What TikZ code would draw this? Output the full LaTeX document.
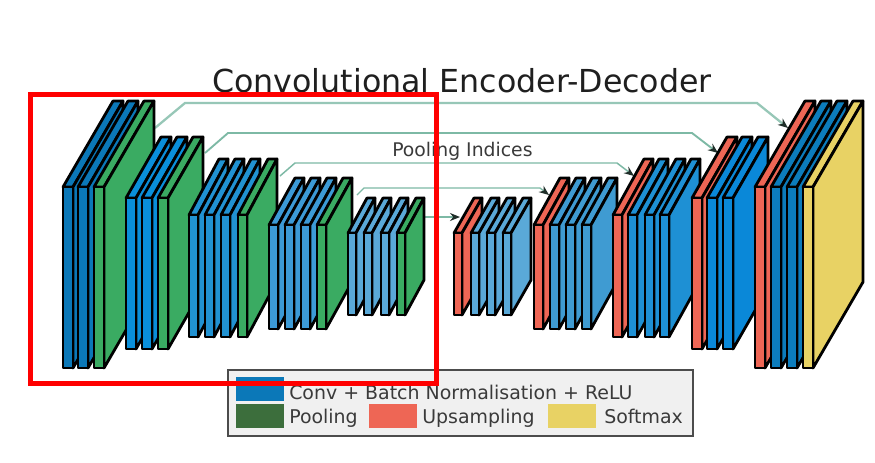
\documentclass[tikz,border=0pt]{standalone}
\usepackage{fontspec}
\setmainfont{DejaVu Sans}
\usetikzlibrary{arrows.meta}
\definecolor{cA}{HTML}{0B78B8}
\definecolor{cB}{HTML}{0A8FDA}
\definecolor{cC}{HTML}{2192D2}
\definecolor{cD}{HTML}{3C9AD6}
\definecolor{cE}{HTML}{5AA9D8}
\definecolor{cF}{HTML}{3F9BD2}
\definecolor{cG}{HTML}{1E90D4}
\definecolor{cH}{HTML}{0A88D8}
\definecolor{cI}{HTML}{0C7CBC}
\definecolor{grn}{HTML}{3AAB62}
\definecolor{grnleg}{HTML}{3C6E3C}
\definecolor{redc}{HTML}{EE6655}
\definecolor{yel}{HTML}{E8D264}
\definecolor{teal1}{HTML}{7DB9A5}
\definecolor{legbg}{HTML}{F0F0F0}
\definecolor{legtxt}{HTML}{3A3A3A}
\tikzset{
  slabface/.style={draw=black,line width=2.1pt,line join=round},
  skip/.style={draw=teal1,-{Stealth[length=7.5pt,width=6pt,color=black!75!teal1]}},
  legtext/.style={inner sep=0pt,anchor=base west,font=\fontsize{14.2pt}{16pt}\selectfont,text=legtxt},
  patch/.style={draw=none}
}
% \slabs{x/colour list}{w}{top}{bottom}{dx}{dy}
\newcommand{\slabs}[6]{%
  \foreach \xx/\cc in {#1}{%
    \path[slabface,fill=\cc] (\xx,#3) -- ({\xx+#5},{#3-#6}) -- ({\xx+#2+#5},{#3-#6}) -- ({\xx+#2},#3) -- cycle;
    \path[slabface,fill=\cc] ({\xx+#2},#3) -- ({\xx+#2+#5},{#3-#6}) -- ({\xx+#2+#5},{#4-#6}) -- ({\xx+#2},#4) -- cycle;
    \path[slabface,fill=\cc] (\xx,#3) rectangle ({\xx+#2},#4);
  }%
}
\begin{document}
\begin{tikzpicture}[x=0.75pt,y=-0.75pt]
\useasboundingbox[fill=white] (0,0) rectangle (875,462);

% skip connectors
\coordinate (s1) at (155,128); \coordinate (s1a) at (185,103); \coordinate (s1b) at (757,103); \coordinate (e1) at (788,128);
\coordinate (s2) at (205,153); \coordinate (s2a) at (228,133); \coordinate (s2b) at (692,133); \coordinate (e2) at (718,153);
\coordinate (s3) at (280,176); \coordinate (s3a) at (295,163); \coordinate (s3b) at (617,163); \coordinate (e3) at (634,176);
\coordinate (s4) at (357,195); \coordinate (s4a) at (364,188); \coordinate (s4b) at (540,188); \coordinate (e4) at (549,195);
\coordinate (s5) at (425,217); \coordinate (e5) at (460,217);
\draw[skip,line width=1.7pt,draw=teal1!80!white] (s1) -- (s1a) -- (s1b) -- (e1);
\draw[skip,line width=1.4pt] (s2) -- (s2a) -- (s2b) -- (e2);
\draw[skip,line width=1.1pt] (s3) -- (s3a) -- (s3b) -- (e3);
\draw[skip,line width=1pt] (s4) -- (s4a) -- (s4b) -- (e4);
\draw[skip,line width=1pt] (s5) -- (e5);

% encoder
\slabs{63/cA,78/cA,94/grn}{10}{187}{368}{50}{86}
\slabs{126/cB,142/cB,158/grn}{10}{198}{349}{35}{61}
\slabs{189/cC,205/cC,221/cC,238/grn}{9}{215}{337}{30}{56}
\slabs{269/cD,285/cD,301/cD,317/grn}{9}{225}{329}{26}{47}
\slabs{348/cE,364/cE,381/cE,397/grn}{8}{233}{315}{19}{35}
% decoder
\slabs{454/redc,471/cE,487/cE,503/cE}{8}{233}{315}{20}{35}
\slabs{534/redc,550/cF,566/cF,582/cF}{9}{225}{329}{26}{47}
\slabs{613/redc,628/cG,645/cG,660/cG}{9}{215}{337}{31}{56}
\slabs{692/redc,707/cH,723/cH}{10}{198}{349}{35}{61}
\slabs{755/redc,771/cI,787/cI,803/yel}{10}{187}{368}{50}{86}

% texts
\node[inner sep=0pt,anchor=base west,font=\fontsize{23.75pt}{28pt}\selectfont,text=black!88] (title) at (212,92) {Convolutional Encoder-Decoder};
\node[inner sep=0pt,anchor=base west,font=\fontsize{14.1pt}{16pt}\selectfont,text=legtxt] (pool) at (392,156) {Pooling Indices};

% legend
\draw[draw=black!70,line width=1.1pt,fill=legbg] (228,370) rectangle (693,436);
\fill[patch,fill=cA] (236,377) rectangle (284,401);
\fill[patch,fill=grnleg] (236,404) rectangle (284,428);
\fill[patch,fill=redc] (369,404) rectangle (417,428);
\fill[patch,fill=yel] (548,404) rectangle (596,428);
\node[legtext] (l1) at (289,399) {Conv + Batch Normalisation + ReLU};
\node[legtext] (l2) at (289,423) {Pooling};
\node[legtext] (l3) at (422,423) {Upsampling};
\node[legtext] (l4) at (604,423) {Softmax};

% red frame
\draw[red,line width=3.4pt] (30.5,94.5) rectangle (436.5,383.5);
\end{tikzpicture}
\end{document}
